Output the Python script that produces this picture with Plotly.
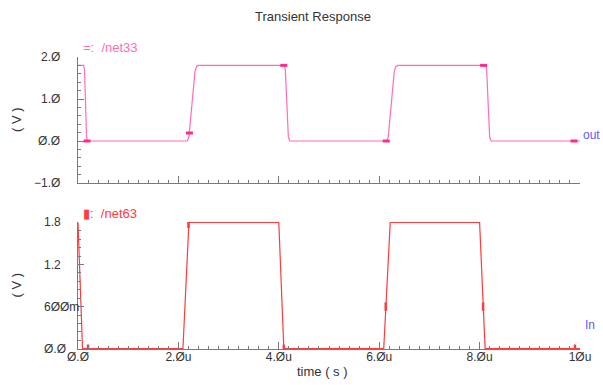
import plotly.graph_objects as go

# ---------------- data (time in microseconds, volts) ----------------
out_t = [0.00, 0.11, 0.13, 0.17, 0.19, 2.18, 2.21, 2.33, 2.36, 2.40,
         4.11, 4.13, 4.19, 4.22, 6.15, 6.18, 6.30, 6.33, 6.37,
         8.12, 8.14, 8.20, 8.23, 10.00]
out_v = [1.80, 1.80, 1.70, 0.10, 0.00, 0.00, 0.10, 1.65, 1.77, 1.80,
         1.80, 1.70, 0.10, 0.00, 0.00, 0.10, 1.65, 1.77, 1.80,
         1.80, 1.70, 0.10, 0.00, 0.00]

in_t = [0.00, 0.09, 2.09, 2.21, 4.00, 4.10, 6.09, 6.22, 8.00, 8.11, 10.00]
in_v = [1.80, 0.00, 0.00, 1.80, 1.80, 0.00, 0.00, 1.80, 1.80, 0.00, 0.00]

out_mark_t = [0.18, 2.22, 4.10, 6.14, 8.08, 9.88]
out_mark_v = [0.00, 0.19, 1.80, 0.00, 1.80, 0.00]
in_mark_t = [0.20, 2.20, 4.10, 6.13, 8.07, 9.90]
in_mark_v = [0.00, 1.78, 0.00, 0.60, 0.60, 0.00]

x_ticks = [0, 2, 4, 6, 8, 10]
x_ticklabels = ["Ø.Ø", "2.Øu", "4.Øu", "6.Øu", "8.Øu", "1Øu"]
top_y_ticks = [-1.0, 0.0, 1.0, 2.0]
top_y_ticklabels = ["−1.Ø", "Ø.Ø", "1.Ø", "2.Ø"]
bot_y_ticks = [0.0, 0.6, 1.2, 1.8]
bot_y_ticklabels = ["Ø.Ø", "6ØØm", "1.2", "1.8"]

PINK = "#ff6eb4"
PINK_MARK = "#ff2a8a"
RED = "#ff3b3b"
BLUE = "#5a5aff"
AXIS = "#7a7a7a"
TXT = "#333333"
FONT = "Liberation Sans"

fig = go.Figure()

fig.add_trace(go.Scatter(x=out_t, y=out_v, mode="lines",
                         line=dict(color=PINK, width=1.2),
                         xaxis="x", yaxis="y", showlegend=False,
                         hoverinfo="skip"))
fig.add_trace(go.Scatter(x=out_mark_t, y=out_mark_v, mode="markers",
                         marker=dict(symbol="line-ew", size=5,
                                     line=dict(color=PINK_MARK, width=3)),
                         xaxis="x", yaxis="y", showlegend=False,
                         hoverinfo="skip"))
fig.add_trace(go.Scatter(x=in_t, y=in_v, mode="lines",
                         line=dict(color=RED, width=1.2),
                         xaxis="x2", yaxis="y2", showlegend=False,
                         hoverinfo="skip"))
fig.add_trace(go.Scatter(x=in_mark_t, y=in_mark_v, mode="markers",
                         marker=dict(symbol="line-ns", size=6,
                                     line=dict(color=RED, width=2.5)),
                         xaxis="x2", yaxis="y2", showlegend=False,
                         hoverinfo="skip"))

common_x = dict(range=[0, 10], showgrid=False, zeroline=False,
                showline=True, linecolor=AXIS, linewidth=1,
                ticks="inside", ticklen=7, tickcolor=AXIS, tickwidth=1,
                tickmode="array", tickvals=x_ticks,
                minor=dict(ticks="inside", ticklen=3, tickcolor=AXIS,
                           tickwidth=1, dtick=0.2, tick0=0, showgrid=False))
common_y = dict(showgrid=False, zeroline=False, showline=True,
                linecolor=AXIS, linewidth=1, ticks="inside", ticklen=6,
                tickcolor=AXIS, tickwidth=1, tickmode="array",
                showticklabels=False)

fig.update_layout(
    width=603, height=385,
    margin=dict(l=78, r=14, t=57, b=36),
    paper_bgcolor="white", plot_bgcolor="white",
    font=dict(family=FONT, size=12, color=TXT),
    showlegend=False,
    xaxis=dict(common_x, anchor="y", showticklabels=False, matches="x2"),
    yaxis=dict(common_y, domain=[0.5685, 1.0], range=[-1.0, 2.0],
               tickvals=top_y_ticks, anchor="x",
               minor=dict(ticks="inside", ticklen=3, tickcolor=AXIS,
                          tickwidth=1, dtick=0.2, tick0=0, showgrid=False)),
    xaxis2=dict(common_x, anchor="y2", showticklabels=True,
                ticktext=x_ticklabels, ticklabelstandoff=-3,
                tickfont=dict(family=FONT, size=12, color=TXT)),
    yaxis2=dict(common_y, domain=[0.0, 0.4349], range=[-0.004, 1.806],
                tickvals=bot_y_ticks, anchor="x2",
                minor=dict(ticks="inside", ticklen=3, tickcolor=AXIS,
                           tickwidth=1, dtick=0.12, tick0=0, showgrid=False)),
)

ann = []
# y tick labels (top: right aligned, bottom: left aligned like the reference)
for v, t in zip(top_y_ticks, top_y_ticklabels):
    ann.append(dict(x=0, xref="paper", y=v, yref="y", text=t,
                    xanchor="right", yanchor="middle", xshift=-16,
                    showarrow=False, font=dict(family=FONT, size=12, color=TXT)))
for v, t in zip(bot_y_ticks, bot_y_ticklabels):
    ann.append(dict(x=0, xref="paper", y=v, yref="y2", text=t,
                    xanchor="left", yanchor="middle", xshift=-36,
                    showarrow=False, font=dict(family=FONT, size=12, color=TXT)))

# title
ann.append(dict(x=(317 - 78) / 511, xref="paper", y=1, yref="paper",
                yshift=41, text="Transient Response", showarrow=False,
                xanchor="center", yanchor="middle",
                font=dict(family=FONT, size=13, color=TXT)))
# x axis title
ann.append(dict(x=(327 - 78) / 511, xref="paper", y=0, yref="paper",
                yshift=-22, text="time ( s )", showarrow=False,
                xanchor="center", yanchor="middle",
                font=dict(family=FONT, size=13, color=TXT)))
# y axis titles
ann.append(dict(x=0, xref="paper", y=0.5, yref="y domain", xshift=-61,
                text="( V )", textangle=-90, showarrow=False,
                xanchor="center", yanchor="middle",
                font=dict(family=FONT, size=13, color=TXT)))
ann.append(dict(x=0, xref="paper", y=0.5, yref="y2 domain", xshift=-61,
                text="( V )", textangle=-90, showarrow=False,
                xanchor="center", yanchor="middle",
                font=dict(family=FONT, size=13, color=TXT)))
# signal names
ann.append(dict(x=0, xref="paper", y=1, yref="y domain", xshift=3, yshift=10,
                text="=:  /net33", showarrow=False, xanchor="left",
                yanchor="middle", font=dict(family=FONT, size=13, color=PINK)))
ann.append(dict(x=0, xref="paper", y=1, yref="y2 domain", xshift=3, yshift=9,
                text="▮:  /net63", showarrow=False, xanchor="left",
                yanchor="middle", font=dict(family=FONT, size=13, color=RED)))
ann.append(dict(x=1, xref="paper", y=0.0, yref="y", xshift=1, yshift=6,
                text="out", showarrow=False, xanchor="left",
                yanchor="middle", font=dict(family=FONT, size=12, color=BLUE)))
ann.append(dict(x=1, xref="paper", y=0.0, yref="y2", xshift=3, yshift=24,
                text="In", showarrow=False, xanchor="left",
                yanchor="middle", font=dict(family=FONT, size=12, color=BLUE)))

fig.update_layout(annotations=ann)

fig.write_html("out.html",
               config={"displayModeBar": False},
               post_script="document.body.style.margin='0';"
                           "document.body.style.overflow='hidden';")
